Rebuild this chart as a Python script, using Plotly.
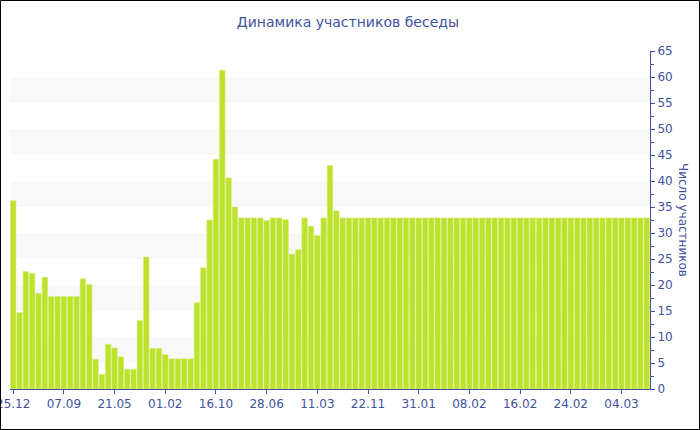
import plotly.graph_objects as go

# Values (participants per period)
values = [
    36.2, 14.7, 22.6, 22.2, 18.4, 21.5, 17.8, 17.8, 17.8, 17.8,
    17.8, 21.2, 20.1, 5.7, 2.8, 8.6, 7.9, 6.2, 3.8, 3.8,
    13.2, 25.4, 7.8, 7.8, 6.6, 5.8, 5.8, 5.8, 5.8, 16.6,
    23.3, 32.5, 44.2, 61.3, 40.6, 35.0, 32.9, 32.9, 32.9, 32.9,
    32.4, 32.9, 32.9, 32.6, 25.9, 26.8, 32.9, 31.3, 29.5, 32.9,
    43.0, 34.3,
] + [32.9] * 49

tick_positions = [0, 8, 16, 24, 32, 40, 48, 56, 64, 72, 80, 88, 96]
tick_labels = ["25.12", "07.09", "21.05", "01.02", "16.10", "28.06", "11.03",
               "22.11", "31.01", "08.02", "16.02", "24.02", "04.03"]

x_index = list(range(len(values)))

BLUE = "#3f51a0"
FONT = "DejaVu Sans"

fig = go.Figure()
fig.add_trace(go.Bar(
    x=x_index, y=values,
    marker=dict(color="#bde22c", line=dict(color="#d6ee85", width=0.6)),
    hoverinfo="y",
))

shapes = []
for lo in range(5, 60, 10):
    shapes.append(dict(type="rect", xref="paper", yref="y", x0=0, x1=1,
                       y0=lo, y1=lo + 5, fillcolor="#f8f8f8", line=dict(width=0),
                       layer="below"))
# outer frame
W, H = 700, 430
l, r, t, b = 10, 50, 51, 41
pw, ph = W - l - r, H - t - b
shapes.append(dict(type="rect", xref="paper", yref="paper",
                   x0=(0.5 - l) / pw, x1=(W - 0.5 - l) / pw,
                   y0=-(b - 0.5) / ph, y1=1 + (t - 0.5) / ph,
                   line=dict(color="black", width=1), fillcolor="rgba(0,0,0,0)",
                   layer="above"))

fig.update_layout(
    width=W, height=H,
    margin=dict(l=l, r=r, t=t, b=b, autoexpand=False),
    paper_bgcolor="white", plot_bgcolor="white",
    showlegend=False,
    bargap=0.12,
    shapes=shapes,
    title=dict(text="Динамика участников беседы", x=0.497, xref="container",
               xanchor="center", y=1 - 22 / H, yref="container", yanchor="middle",
               font=dict(family=FONT, size=14, color=BLUE)),
    font=dict(family=FONT, size=12, color=BLUE),
    xaxis=dict(range=[-0.5, len(values) - 0.5], tickmode="array",
               tickvals=tick_positions, ticktext=tick_labels,
               ticklabeloverflow="allow", automargin=False,
               showgrid=False, zeroline=False, showline=True,
               linecolor=BLUE, linewidth=1, ticks="outside", ticklen=4,
               tickcolor=BLUE, tickfont=dict(family=FONT, size=12, color=BLUE)),
    yaxis=dict(side="right", range=[0, 65], dtick=5, tick0=0, automargin=False,
               showgrid=False, zeroline=False, showline=True,
               linecolor=BLUE, linewidth=1, ticks="outside", ticklen=4,
               tickcolor=BLUE, tickfont=dict(family=FONT, size=12, color=BLUE),
               minor=dict(dtick=2.5, ticks="outside", ticklen=3, tickcolor=BLUE)),
    annotations=[dict(text="Число участников", xref="paper", yref="paper",
                      x=1 + 33 / pw, y=0.5, xanchor="center", yanchor="middle",
                      textangle=90, showarrow=False,
                      font=dict(family=FONT, size=12, color=BLUE))],
)

fig.write_html(
    "out.html",
    config={"displayModeBar": False},
    post_script="document.body.style.margin='0';document.body.style.padding='0';",
)
